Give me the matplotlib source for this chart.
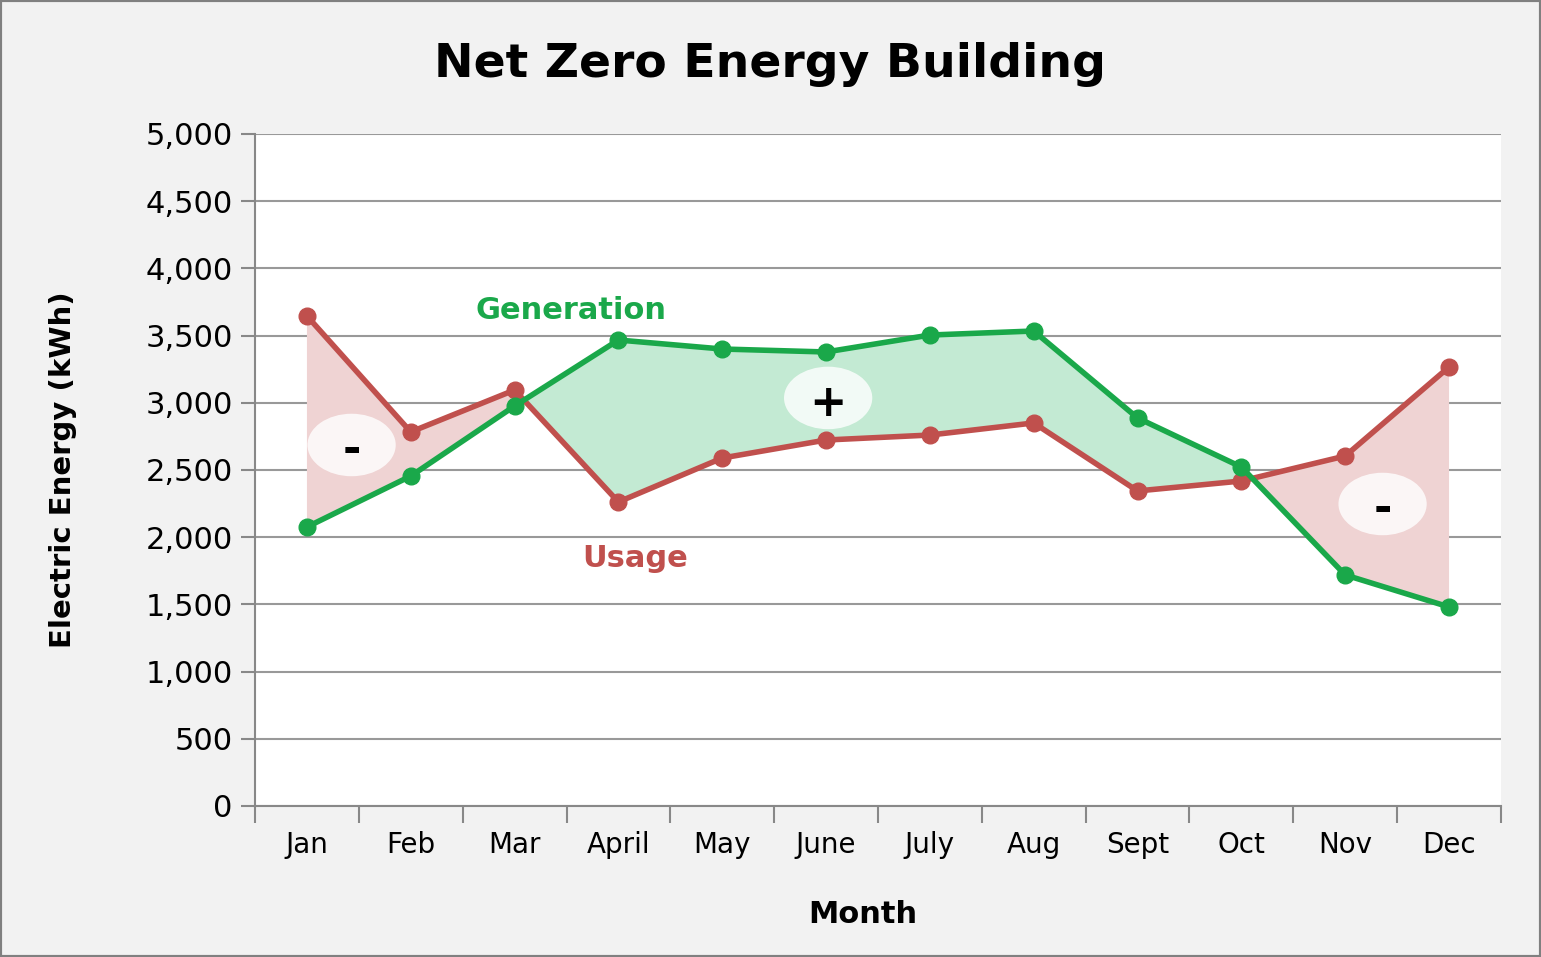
import numpy as np
import matplotlib.pyplot as plt
from matplotlib.patches import Ellipse, Rectangle
from matplotlib.ticker import FuncFormatter, FixedLocator

months = ['Jan', 'Feb', 'Mar', 'April', 'May', 'June', 'July', 'Aug', 'Sept', 'Oct', 'Nov', 'Dec']
generation = [2076, 2455, 2976, 3467, 3400, 3378, 3504, 3534, 2887, 2522, 1719, 1481]
usage = [3646, 2783, 3095, 2262, 2589, 2723, 2760, 2850, 2344, 2418, 2604, 3266]

# white bubbles with +/- signs: (x, y, sign)
bubbles = [(0.43, 2686, '-'), (5.02, 3036, '+'), (10.36, 2247, '-')]

GREEN = '#1aa84a'
RED = '#c0504d'


def main():
    plt.rcParams['font.family'] = ['DejaVu Sans']
    fig = plt.figure(figsize=(15.41, 9.57), dpi=100, facecolor='#f2f2f2')
    fig.patches.append(Rectangle((0, 0), 1, 1, transform=fig.transFigure, fill=False,
                                 edgecolor='#808080', linewidth=3))
    ax = fig.add_axes([0.1655, 0.1578, 0.8085, 0.7022])
    ax.set_facecolor('white')

    x = np.arange(len(months))
    g = np.array(generation)
    u = np.array(usage)

    ax.fill_between(x, g, u, where=g >= u, interpolate=True, color='#c3ead3', linewidth=0, zorder=1)
    ax.fill_between(x, g, u, where=u >= g, interpolate=True, color='#efd3d3', linewidth=0, zorder=1)

    ax.plot(x, g, color=GREEN, lw=4, marker='o', ms=12, zorder=4)
    ax.plot(x, u, color=RED, lw=4, marker='o', ms=12, zorder=3)

    for bx, by, s in bubbles:
        ax.add_patch(Ellipse((bx, by), 0.85, 465, facecolor='white', alpha=0.8,
                             edgecolor='none', zorder=5))
        ax.text(bx, by - 40, s, ha='center', va='center', fontsize=32, fontweight='bold',
                color='black', zorder=6)

    ax.text(2.54, 3690, 'Generation', color=GREEN, fontsize=22, fontweight='bold',
            ha='center', va='center')
    ax.text(3.16, 1845, 'Usage', color=RED, fontsize=22, fontweight='bold',
            ha='center', va='center')

    ax.set_xlim(-0.5, 11.5)
    ax.set_ylim(0, 5000)
    ax.set_yticks(np.arange(0, 5001, 500))
    ax.yaxis.set_major_formatter(FuncFormatter(lambda v, p: f'{int(v):,}'))
    ax.set_xticks(x)
    ax.set_xticklabels(months)
    ax.xaxis.set_minor_locator(FixedLocator(np.arange(-0.5, 12, 1)))
    ax.tick_params(axis='x', which='major', length=0, pad=18, labelsize=20)
    ax.tick_params(axis='x', which='minor', length=12, width=1.5, color='#888888')
    ax.tick_params(axis='y', length=10, width=1.5, color='#888888', labelsize=22, pad=6)

    ax.grid(axis='y', color='#999999', lw=1.5, zorder=0)
    ax.set_axisbelow(True)
    for side in ['top', 'right']:
        ax.spines[side].set_visible(False)
    for side in ['left', 'bottom']:
        ax.spines[side].set_color('#888888')
        ax.spines[side].set_linewidth(1.5)

    ax.set_xlabel('Month', fontsize=22, fontweight='bold')
    ax.set_ylabel('Electric Energy (kWh)', fontsize=21, fontweight='bold')
    ax.xaxis.set_label_coords(0.488, -0.14)
    ax.yaxis.set_label_coords(-0.143, 0.5)
    fig.text(0.5, 0.933, 'Net Zero Energy Building', ha='center', va='center',
             fontsize=34, fontweight='bold')

    fig.savefig('out.png', dpi=100, facecolor=fig.get_facecolor())


if __name__ == "__main__":
    main()
